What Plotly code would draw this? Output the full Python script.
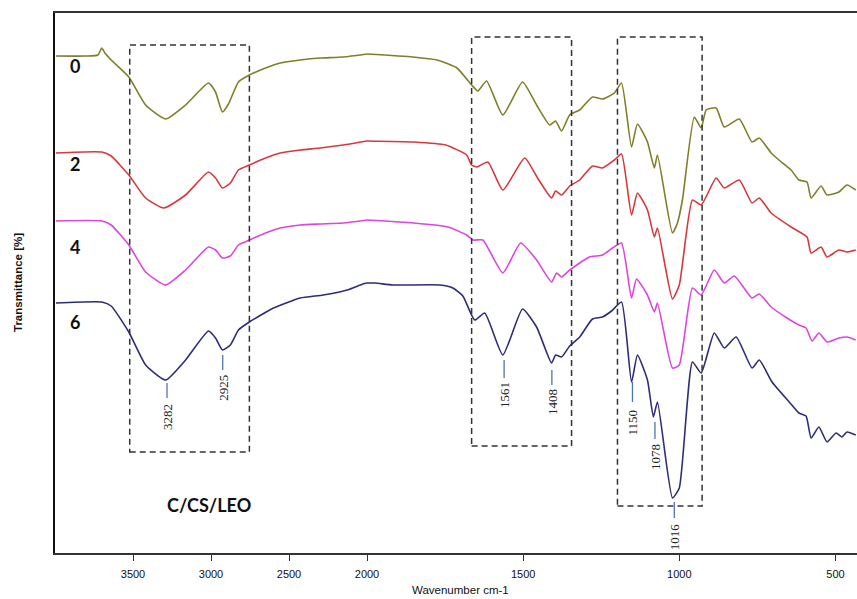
import plotly.graph_objects as go

# ---------------- data (wavenumber cm-1, transmittance in offset arbitrary units) ----------------
wn_0 = [3994, 3800, 3725, 3700, 3680, 3640, 3527, 3419, 3291, 3163, 3016, 2971, 2927, 2888, 2824, 2754,
        2650, 2556, 2428, 2300, 2153, 2000, 1853, 1776, 1712, 1665, 1645, 1617, 1565, 1502, 1457, 1415, 1396, 1377,
        1351, 1319, 1278, 1246, 1208, 1185, 1153, 1134, 1102, 1080, 1070, 1022, 1006, 990, 952, 930, 914,
        882, 856, 808, 767, 744, 706, 681, 642, 617, 591, 578, 546, 527, 489, 463, 435]
t_0 = [497, 497, 498, 505, 500, 493, 476, 448, 434, 448, 470, 461, 441, 449, 471, 478,
       485, 490, 493, 495, 496, 499, 496, 493, 485, 468, 462, 472, 438, 471, 448, 428, 432, 422,
       438, 443, 456, 454, 460, 470, 406, 429, 411, 385, 398, 320, 330, 353, 436, 425, 443,
       445, 426, 434, 411, 415, 400, 393, 383, 373, 371, 355, 367, 358, 361, 368, 363]

wn_2 = [3994, 3700, 3640, 3527, 3419, 3303, 3163, 3016, 2971, 2927, 2876, 2824, 2754, 2650, 2556, 2428, 2300, 2153,
        2000, 1850, 1748, 1681, 1665, 1648, 1613, 1565, 1495, 1454, 1409, 1396, 1377, 1351, 1319, 1278,
        1246, 1208, 1185, 1153, 1134, 1102, 1080, 1070, 1022, 1000, 958, 930, 882, 856, 808, 767, 744,
        706, 642, 591, 578, 546, 527, 489, 463, 435]
t_2 = [400, 401, 397, 378, 355, 345, 358, 381, 375, 365, 370, 383, 388, 395, 400, 403, 405, 408,
       412, 411, 408, 398, 388, 386, 391, 363, 395, 375, 355, 362, 358, 367, 373, 387,
       385, 393, 399, 338, 360, 343, 316, 325, 254, 268, 353, 348, 375, 365, 373, 350, 355,
       340, 326, 316, 300, 306, 296, 303, 301, 303]

wn_4 = [3994, 3700, 3640, 3527, 3419, 3291, 3163, 3016, 2971, 2927, 2876, 2824, 2754, 2650, 2556, 2428, 2300, 2153,
        2000, 1850, 1740, 1681, 1661, 1629, 1565, 1508, 1457, 1409, 1393, 1377, 1351, 1288, 1246, 1214,
        1185, 1153, 1137, 1102, 1080, 1070, 1022, 1000, 958, 930, 888, 856, 824, 767, 744, 706, 655,
        617, 594, 575, 553, 527, 489, 463, 435]
t_4 = [332, 332, 328, 308, 281, 268, 283, 306, 303, 295, 297, 308, 313, 320, 325, 328, 329, 330,
       333, 330, 326, 318, 313, 313, 280, 310, 293, 271, 280, 276, 283, 296, 298, 305,
       310, 255, 274, 258, 241, 250, 185, 188, 265, 258, 283, 270, 277, 255, 259, 246, 235,
       228, 225, 212, 220, 211, 215, 216, 213]

wn_6 = [3994, 3700, 3640, 3527, 3419, 3291, 3163, 3016, 2971, 2927, 2876, 2824, 2754, 2600, 2428, 2281, 2128,
        2026, 2000, 1974, 1917, 1767, 1725, 1693, 1655, 1623, 1565, 1502, 1457, 1409, 1396, 1377, 1351,
        1319, 1278, 1246, 1217, 1185, 1153, 1134, 1102, 1083, 1070, 1022, 1000, 958, 930, 888, 856,
        818, 767, 744, 703, 648, 617, 594, 578, 553, 527, 498, 479, 463, 435]
t_6 = [250, 251, 247, 221, 188, 173, 193, 222, 215, 203, 208, 223, 231, 245, 255, 258, 263,
       269, 270, 270, 268, 268, 265, 257, 233, 240, 198, 244, 226, 190, 198, 196, 207,
       216, 234, 236, 242, 251, 171, 198, 173, 136, 151, 55, 65, 191, 180, 220, 205,
       216, 185, 193, 171, 151, 140, 137, 115, 126, 111, 120, 116, 121, 118]

series_names = ["0", "2", "4", "6"]
series_colors = ["#7f7f2a", "#d8383c", "#dd45dd", "#2d2d78"]

# marked peaks of sample 6
peak_wn = [3282, 2925, 1561, 1408, 1150, 1078, 1016]
peak_labels = ["3282", "2925", "1561", "1408", "1150", "1078", "1016"]

x_ticks_high = [3500, 3000, 2500, 2000]
x_ticks_low = [1500, 1000, 500]

# ---------------- figure ----------------
SPLIT = 2000
fig = go.Figure()

def split(wn, t):
    hi = [(w, v) for w, v in zip(wn, t) if w >= SPLIT]
    lo = [(w, v) for w, v in zip(wn, t) if w <= SPLIT]
    return hi, lo

for name, col, wn, t in zip(series_names, series_colors,
                            [wn_0, wn_2, wn_4, wn_6], [t_0, t_2, t_4, t_6]):
    hi, lo = split(wn, t)
    fig.add_trace(go.Scatter(x=[p[0] for p in hi], y=[p[1] for p in hi], mode="lines",
                             line=dict(color=col, width=1.6, shape="spline", smoothing=0.5),
                             xaxis="x", yaxis="y", showlegend=False, name=name))
    fig.add_trace(go.Scatter(x=[p[0] for p in lo], y=[p[1] for p in lo], mode="lines",
                             line=dict(color=col, width=1.6, shape="spline", smoothing=0.5),
                             xaxis="x2", yaxis="y", showlegend=False, name=name))

d = 312 / 802
axis_common = dict(showline=True, linecolor="#333", linewidth=1.6, mirror=True,
                   ticks="outside", ticklen=6, tickwidth=1.2, tickcolor="#333",
                   showgrid=False, zeroline=False, automargin=False,
                   tickfont=dict(family="Liberation Sans, Arial", size=11, color="#111"),
                   ticklabelstandoff=4)
fig.update_layout(
    template="none",
    width=857, height=599, autosize=False,
    margin=dict(l=55, r=0, t=13, b=46, autoexpand=False),
    paper_bgcolor="white", plot_bgcolor="white",
    xaxis=dict(domain=[0, d], range=[4000, 2000], tickvals=x_ticks_high,
               ticktext=[str(v) for v in x_ticks_high], anchor="y", **axis_common),
    xaxis2=dict(domain=[d, 1], range=[2000, 431], tickvals=x_ticks_low,
                ticktext=[str(v) for v in x_ticks_low], anchor="y", **axis_common),
    yaxis=dict(range=[0, 540], showline=True, linecolor="#111", linewidth=1.6, automargin=False,
               showticklabels=False, ticks="", showgrid=False, zeroline=False),
)

# dashed boxes
box_style = dict(color="#333", width=1.5, dash="6px,4px")
boxes = [("x", 3521, 2754, 101, 508), ("x2", 1665, 1345, 107, 516), ("x2", 1198, 927, 47, 516)]
for xr, x0, x1, y0, y1 in boxes:
    fig.add_shape(type="rect", xref=xr, yref="y", x0=x0, x1=x1, y0=y0, y1=y1,
                  line=box_style, fillcolor="rgba(0,0,0,0)", layer="above")

# peak markers: (top of stroke, bottom of stroke, label centre)
peak_pos = [(170, 155, 136), (198, 183, 165), (193, 175, 158), (183, 168, 151),
            (171, 151, 131), (131, 114, 96), (51, 35, 16)]
for w, lab, (ya, yb, yt) in zip(peak_wn, peak_labels, peak_pos):
    xr = "x" if w > SPLIT else "x2"
    fig.add_shape(type="line", xref=xr, yref="y", x0=w, x1=w, y0=ya, y1=yb,
                  line=dict(color="#4f74b0", width=1.3))
    fig.add_annotation(xref=xr, yref="y", x=w, y=yt, text=lab, textangle=-90, showarrow=False,
                       font=dict(family="Liberation Serif, Times New Roman", size=13, color="#222"))

# sample labels
label_y = [487, 389, 306, 231]
for name, yv in zip(series_names, label_y):
    fig.add_annotation(xref="x", yref="y", x=3872, y=yv, text="<b>%s</b>" % name, showarrow=False,
                       font=dict(family="Lato, Open Sans", size=18, color="#111"))

fig.add_annotation(xref="x", yref="y", x=3016, y=48, text="<b>C/CS/LEO</b>", showarrow=False,
                   font=dict(family="Lato, Open Sans", size=18, color="#111"))

# axis titles
fig.add_annotation(xref="paper", yref="paper", x=0.506, y=-37 / 540, text="Wavenumber cm-1",
                   showarrow=False, yanchor="middle",
                   font=dict(family="Liberation Sans, Arial", size=11.5, color="#111"))
fig.add_annotation(xref="paper", yref="paper", x=-37 / 802, y=0.5, text="<b>Transmittance [%]</b>",
                   textangle=-90, showarrow=False, xanchor="center",
                   font=dict(family="Liberation Sans, Arial", size=11.5, color="#111"))

fig.write_html("out.html")
